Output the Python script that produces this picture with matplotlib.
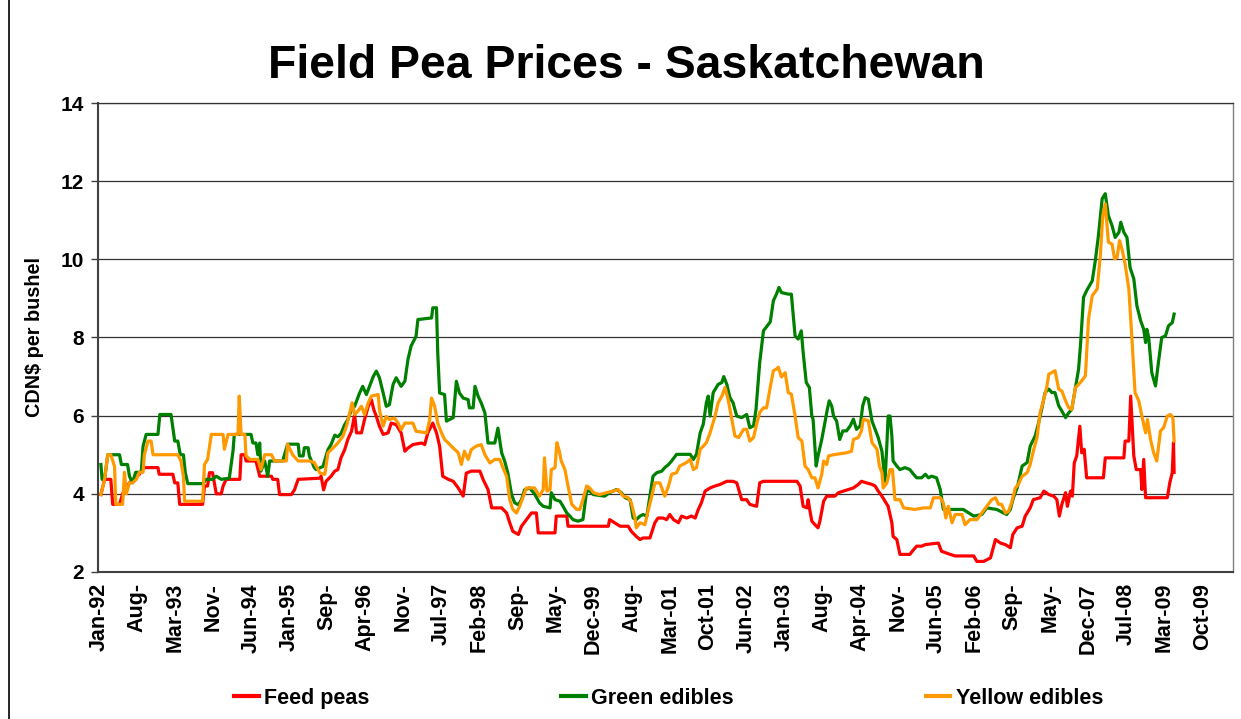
import matplotlib
matplotlib.use("Agg")
import matplotlib.pyplot as plt
from matplotlib.lines import Line2D

# ---------------- data (decimal years, CDN$ per bushel) ----------------
feed_x = [1992.03, 1992.09, 1992.19, 1992.22, 1992.33, 1992.38, 1992.49, 1992.65, 1992.73, 1992.95,
          1992.97, 1993.19, 1993.22, 1993.27, 1993.30, 1993.67, 1993.70, 1993.75, 1993.78, 1993.83,
          1993.89, 1993.97, 1994.00, 1994.05, 1994.27, 1994.29, 1994.35, 1994.37, 1994.53, 1994.59,
          1994.78, 1994.80, 1994.88, 1994.91, 1995.10, 1995.15, 1995.21, 1995.56, 1995.58, 1995.62,
          1995.66, 1995.74, 1995.80, 1995.85, 1995.90, 1995.96, 1996.01, 1996.07, 1996.12, 1996.15,
          1996.23, 1996.28, 1996.34, 1996.39, 1996.43, 1996.47, 1996.52, 1996.58, 1996.66, 1996.71,
          1996.79, 1996.87, 1996.93, 1996.98, 1997.06, 1997.20, 1997.25, 1997.30, 1997.38, 1997.44,
          1997.49, 1997.54, 1997.63, 1997.71, 1997.79, 1997.87, 1997.92, 1998.00, 1998.14, 1998.19,
          1998.27, 1998.33, 1998.49, 1998.57, 1998.62, 1998.67, 1998.76, 1998.81, 1998.89, 1998.97,
          1999.05, 1999.08, 1999.35, 1999.37, 1999.54, 1999.56, 2000.21, 2000.23, 2000.31, 2000.40,
          2000.53, 2000.58, 2000.66, 2000.72, 2000.77, 2000.88, 2000.96, 2001.01, 2001.09, 2001.15,
          2001.20, 2001.26, 2001.34, 2001.39, 2001.47, 2001.55, 2001.61, 2001.66, 2001.71, 2001.77,
          2001.85, 2001.93, 2002.01, 2002.12, 2002.22, 2002.28, 2002.36, 2002.44, 2002.49, 2002.60,
          2002.65, 2002.71, 2003.25, 2003.30, 2003.35, 2003.41, 2003.43, 2003.46, 2003.49, 2003.54,
          2003.59, 2003.62, 2003.68, 2003.73, 2003.86, 2003.92, 2004.00, 2004.08, 2004.16, 2004.24,
          2004.29, 2004.37, 2004.46, 2004.51, 2004.56, 2004.62, 2004.67, 2004.72, 2004.78, 2004.80,
          2004.86, 2004.91, 2005.07, 2005.13, 2005.18, 2005.26, 2005.32, 2005.53, 2005.58, 2005.72,
          2005.80, 2006.10, 2006.15, 2006.26, 2006.37, 2006.45, 2006.53, 2006.61, 2006.69, 2006.73,
          2006.80, 2006.88, 2006.93, 2007.01, 2007.06, 2007.17, 2007.23, 2007.31, 2007.39, 2007.44,
          2007.48, 2007.52, 2007.58, 2007.61, 2007.66, 2007.69, 2007.72, 2007.76, 2007.81, 2007.84,
          2007.88, 2007.92, 2008.19, 2008.22, 2008.52, 2008.54, 2008.60, 2008.63, 2008.68, 2008.72,
          2008.79, 2008.81, 2008.84, 2008.87, 2009.22, 2009.26, 2009.30, 2009.32, 2009.33]
feed_y = [3.98, 4.37, 4.37, 3.73, 3.73, 4.00, 4.28, 4.50, 4.67, 4.67,
          4.50, 4.50, 4.28, 4.28, 3.73, 3.73, 4.20, 4.20, 4.54, 4.54,
          4.00, 4.00, 4.20, 4.37, 4.37, 5.00, 5.00, 4.84, 4.84, 4.45,
          4.45, 4.37, 4.37, 3.98, 3.98, 4.10, 4.37, 4.40, 4.45, 4.10,
          4.32, 4.45, 4.58, 4.62, 4.92, 5.13, 5.39, 5.60, 6.03, 5.56,
          5.56, 5.90, 6.24, 6.41, 6.15, 5.98, 5.73, 5.52, 5.56, 5.81,
          5.77, 5.56, 5.09, 5.17, 5.26, 5.30, 5.26, 5.56, 5.81, 5.56,
          5.22, 4.45, 4.37, 4.32, 4.15, 3.94, 4.53, 4.58, 4.58, 4.37,
          4.11, 3.64, 3.64, 3.51, 3.26, 3.04, 2.96, 3.17, 3.34, 3.51,
          3.51, 3.00, 3.00, 3.43, 3.43, 3.17, 3.17, 3.34, 3.26, 3.17,
          3.17, 3.04, 2.91, 2.83, 2.87, 2.87, 3.26, 3.38, 3.38, 3.34,
          3.47, 3.34, 3.26, 3.43, 3.38, 3.43, 3.38, 3.60, 3.77, 4.07,
          4.15, 4.20, 4.24, 4.32, 4.32, 4.28, 3.85, 3.85, 3.73, 3.68,
          4.28, 4.32, 4.32, 4.20, 3.68, 3.64, 3.85, 3.56, 3.30, 3.21,
          3.13, 3.30, 3.81, 3.94, 3.94, 4.03, 4.07, 4.11, 4.15, 4.24,
          4.32, 4.28, 4.24, 4.20, 4.07, 3.94, 3.81, 3.68, 3.26, 2.91,
          2.83, 2.45, 2.45, 2.57, 2.66, 2.66, 2.70, 2.74, 2.53, 2.45,
          2.41, 2.41, 2.27, 2.27, 2.36, 2.83, 2.74, 2.70, 2.62, 2.96,
          3.13, 3.17, 3.43, 3.64, 3.85, 3.90, 4.07, 3.98, 3.94, 3.85,
          3.43, 3.73, 4.03, 3.68, 4.07, 3.94, 4.79, 4.97, 5.73, 5.05,
          5.14, 4.41, 4.41, 4.92, 4.92, 5.35, 5.35, 6.50, 4.97, 4.62,
          4.62, 4.11, 4.88, 3.90, 3.90, 4.28, 4.54, 5.31, 4.55]

green_x = [1992.03, 1992.05, 1992.09, 1992.14, 1992.33, 1992.36, 1992.46, 1992.49, 1992.54, 1992.59,
           1992.68, 1992.71, 1992.76, 1992.95, 1992.98, 1993.16, 1993.22, 1993.27, 1993.31, 1993.36,
           1993.39, 1993.43, 1993.67, 1993.73, 1993.83, 1993.89, 1993.97, 1994.10, 1994.16, 1994.18,
           1994.45, 1994.48, 1994.53, 1994.56, 1994.59, 1994.61, 1994.67, 1994.72, 1994.75, 1994.96,
           1995.04, 1995.21, 1995.23, 1995.29, 1995.31, 1995.37, 1995.39, 1995.47, 1995.50, 1995.61,
           1995.69, 1995.74, 1995.80, 1995.85, 1995.90, 1995.96, 1996.01, 1996.07, 1996.12, 1996.20,
           1996.25, 1996.31, 1996.36, 1996.42, 1996.47, 1996.52, 1996.58, 1996.63, 1996.68, 1996.74,
           1996.79, 1996.87, 1996.93, 1996.98, 1997.03, 1997.11, 1997.14, 1997.36, 1997.38, 1997.44,
           1997.46, 1997.49, 1997.57, 1997.60, 1997.71, 1997.76, 1997.81, 1997.87, 1997.95, 1997.97,
           1998.03, 1998.06, 1998.11, 1998.16, 1998.22, 1998.27, 1998.38, 1998.43, 1998.49, 1998.54,
           1998.59, 1998.65, 1998.70, 1998.76, 1998.81, 1998.86, 1998.94, 1999.02, 1999.10, 1999.16,
           1999.27, 1999.29, 1999.35, 1999.43, 1999.48, 1999.54, 1999.59, 1999.64, 1999.72, 1999.80,
           1999.86, 1999.91, 1999.97, 2000.15, 2000.23, 2000.34, 2000.42, 2000.48, 2000.56, 2000.61,
           2000.66, 2000.72, 2000.77, 2000.83, 2000.88, 2000.93, 2000.99, 2001.07, 2001.12, 2001.18,
           2001.23, 2001.31, 2001.53, 2001.58, 2001.63, 2001.69, 2001.74, 2001.79, 2001.82, 2001.85,
           2001.90, 2001.98, 2002.04, 2002.07, 2002.12, 2002.17, 2002.22, 2002.28, 2002.36, 2002.44,
           2002.49, 2002.55, 2002.59, 2002.65, 2002.71, 2002.82, 2002.87, 2002.92, 2002.96, 2003.00,
           2003.11, 2003.16, 2003.22, 2003.27, 2003.32, 2003.35, 2003.40, 2003.45, 2003.49, 2003.51,
           2003.56, 2003.59, 2003.65, 2003.70, 2003.74, 2003.77, 2003.81, 2003.84, 2003.89, 2003.94,
           2003.99, 2004.05, 2004.11, 2004.16, 2004.21, 2004.27, 2004.31, 2004.35, 2004.40, 2004.46,
           2004.51, 2004.56, 2004.62, 2004.67, 2004.70, 2004.72, 2004.75, 2004.78, 2004.80, 2004.86,
           2004.91, 2004.99, 2005.07, 2005.13, 2005.18, 2005.26, 2005.32, 2005.37, 2005.42, 2005.50,
           2005.56, 2005.61, 2005.93, 2006.02, 2006.10, 2006.23, 2006.31, 2006.47, 2006.63, 2006.69,
           2006.74, 2006.80, 2006.88, 2006.96, 2007.01, 2007.09, 2007.14, 2007.20, 2007.25, 2007.31,
           2007.36, 2007.41, 2007.47, 2007.52, 2007.58, 2007.63, 2007.68, 2007.74, 2007.79, 2007.82,
           2007.87, 2007.92, 2008.01, 2008.06, 2008.11, 2008.17, 2008.22, 2008.27, 2008.33, 2008.38,
           2008.44, 2008.47, 2008.52, 2008.57, 2008.62, 2008.68, 2008.73, 2008.79, 2008.84, 2008.87,
           2008.89, 2008.92, 2008.97, 2009.03, 2009.08, 2009.13, 2009.19, 2009.24, 2009.30, 2009.33]
green_y = [4.75, 4.37, 4.37, 5.00, 5.00, 4.75, 4.75, 4.45, 4.28, 4.55,
           4.55, 5.22, 5.52, 5.52, 6.03, 6.03, 5.35, 5.35, 5.00, 5.00,
           4.55, 4.26, 4.26, 4.37, 4.37, 4.45, 4.37, 4.40, 5.10, 5.52,
           5.52, 5.30, 5.30, 5.00, 5.30, 4.58, 4.84, 4.45, 4.84, 4.84,
           5.27, 5.27, 4.97, 4.97, 5.18, 5.18, 4.97, 4.67, 4.62, 4.70,
           5.13, 5.26, 5.50, 5.46, 5.54, 5.77, 5.90, 6.15, 6.24, 6.58,
           6.75, 6.54, 6.75, 7.00, 7.14, 6.97, 6.58, 6.24, 6.28, 6.80,
           6.97, 6.75, 6.88, 7.44, 7.78, 8.03, 8.46, 8.50, 8.76, 8.76,
           7.60, 6.58, 6.54, 5.86, 5.95, 6.88, 6.58, 6.45, 6.41, 6.20,
           6.20, 6.75, 6.50, 6.33, 6.07, 5.30, 5.30, 5.68, 5.05, 4.83,
           4.53, 3.98, 3.77, 3.72, 3.85, 4.10, 4.15, 4.00, 3.77, 3.68,
           3.64, 4.03, 3.85, 3.81, 3.68, 3.51, 3.43, 3.34, 3.30, 3.34,
           4.07, 4.07, 3.98, 3.94, 4.03, 4.11, 4.03, 3.90, 3.85, 3.38,
           3.34, 3.43, 3.47, 3.43, 3.94, 4.45, 4.54, 4.58, 4.67, 4.75,
           4.84, 5.01, 5.01, 4.88, 5.01, 5.56, 5.78, 6.33, 6.50, 5.99,
           6.59, 6.80, 6.85, 7.00, 6.80, 6.46, 6.33, 5.99, 5.95, 6.03,
           5.69, 5.74, 6.16, 7.36, 8.17, 8.40, 8.94, 9.11, 9.28, 9.15,
           9.11, 9.11, 8.04, 7.96, 8.17, 7.62, 6.85, 6.72, 5.99, 5.91,
           4.71, 4.97, 5.39, 5.82, 6.16, 6.38, 6.25, 5.99, 5.86, 5.39,
           5.61, 5.61, 5.74, 5.91, 5.65, 5.74, 6.25, 6.46, 6.42, 5.86,
           5.65, 5.44, 5.09, 4.32, 5.27, 5.99, 5.99, 5.48, 4.84, 4.71,
           4.62, 4.67, 4.62, 4.50, 4.41, 4.41, 4.50, 4.41, 4.45, 4.41,
           4.11, 3.60, 3.60, 3.51, 3.43, 3.47, 3.64, 3.60, 3.47, 3.60,
           3.90, 4.15, 4.71, 4.80, 5.22, 5.48, 5.78, 6.20, 6.59, 6.68,
           6.59, 6.59, 6.25, 6.12, 5.95, 6.07, 6.16, 6.72, 7.19, 7.79,
           9.03, 9.20, 9.45, 9.97, 10.61, 11.55, 11.68, 11.12, 10.86, 10.56,
           10.69, 10.95, 10.69, 10.56, 9.79, 9.50, 8.81, 8.43, 8.21, 7.87,
           8.21, 8.00, 7.10, 6.76, 7.40, 8.00, 8.04, 8.30, 8.38, 8.60]

yellow_x = [1992.03, 1992.09, 1992.14, 1992.19, 1992.25, 1992.27, 1992.38, 1992.41, 1992.44, 1992.49,
            1992.54, 1992.60, 1992.65, 1992.71, 1992.73, 1992.79, 1992.84, 1992.87, 1993.27, 1993.32,
            1993.36, 1993.38, 1993.67, 1993.70, 1993.75, 1993.81, 1994.00, 1994.02, 1994.08, 1994.24,
            1994.26, 1994.29, 1994.35, 1994.37, 1994.43, 1994.56, 1994.61, 1994.67, 1994.78, 1994.83,
            1995.02, 1995.04, 1995.12, 1995.21, 1995.39, 1995.47, 1995.56, 1995.64, 1995.69, 1995.77,
            1995.85, 1995.93, 1995.99, 1996.04, 1996.08, 1996.12, 1996.17, 1996.23, 1996.28, 1996.34,
            1996.39, 1996.50, 1996.52, 1996.58, 1996.63, 1996.68, 1996.76, 1996.82, 1996.87, 1996.93,
            1997.06, 1997.11, 1997.28, 1997.33, 1997.36, 1997.41, 1997.46, 1997.52, 1997.57, 1997.63,
            1997.71, 1997.79, 1997.84, 1997.89, 1997.95, 1998.00, 1998.08, 1998.16, 1998.22, 1998.30,
            1998.38, 1998.46, 1998.51, 1998.57, 1998.62, 1998.67, 1998.73, 1998.78, 1998.84, 1998.89,
            1999.02, 1999.10, 1999.16, 1999.18, 1999.22, 1999.27, 1999.29, 1999.35, 1999.38, 1999.42,
            1999.45, 1999.51, 1999.56, 1999.62, 1999.70, 1999.75, 1999.80, 1999.86, 1999.91, 1999.97,
            2000.07, 2000.18, 2000.29, 2000.37, 2000.45, 2000.53, 2000.58, 2000.64, 2000.66, 2000.72,
            2000.80, 2000.85, 2000.91, 2000.96, 2001.04, 2001.09, 2001.12, 2001.18, 2001.23, 2001.31,
            2001.36, 2001.47, 2001.53, 2001.58, 2001.63, 2001.69, 2001.74, 2001.79, 2001.85, 2001.93,
            2001.98, 2002.04, 2002.09, 2002.14, 2002.20, 2002.25, 2002.31, 2002.39, 2002.44, 2002.49,
            2002.55, 2002.60, 2002.65, 2002.71, 2002.76, 2002.82, 2002.87, 2002.92, 2002.95, 2003.00,
            2003.06, 2003.11, 2003.16, 2003.22, 2003.27, 2003.33, 2003.38, 2003.43, 2003.49, 2003.54,
            2003.59, 2003.65, 2003.68, 2003.73, 2003.76, 2003.84, 2004.05, 2004.13, 2004.16, 2004.24,
            2004.29, 2004.32, 2004.40, 2004.46, 2004.54, 2004.58, 2004.62, 2004.64, 2004.70, 2004.75,
            2004.79, 2004.83, 2004.91, 2004.97, 2005.15, 2005.29, 2005.40, 2005.45, 2005.56, 2005.61,
            2005.65, 2005.69, 2005.75, 2005.80, 2005.91, 2005.96, 2006.04, 2006.15, 2006.23, 2006.31,
            2006.39, 2006.45, 2006.50, 2006.55, 2006.61, 2006.66, 2006.71, 2006.77, 2006.82, 2006.88,
            2006.96, 2007.01, 2007.06, 2007.12, 2007.17, 2007.23, 2007.28, 2007.31, 2007.41, 2007.47,
            2007.52, 2007.58, 2007.63, 2007.68, 2007.74, 2007.79, 2007.84, 2007.90, 2007.95, 2008.01,
            2008.09, 2008.14, 2008.18, 2008.22, 2008.27, 2008.33, 2008.37, 2008.41, 2008.45, 2008.49,
            2008.54, 2008.60, 2008.65, 2008.70, 2008.76, 2008.81, 2008.87, 2008.90, 2008.95, 2009.00,
            2009.05, 2009.11, 2009.16, 2009.22, 2009.27, 2009.31, 2009.33]
yellow_y = [3.98, 4.37, 5.00, 5.00, 4.70, 3.73, 3.73, 4.55, 4.00, 4.28,
            4.28, 4.37, 4.55, 4.55, 5.00, 5.35, 5.35, 5.00, 5.00, 4.84,
            4.45, 3.81, 3.81, 4.75, 4.88, 5.52, 5.52, 5.14, 5.52, 5.52,
            6.50, 5.52, 5.52, 4.97, 4.88, 4.88, 4.62, 5.00, 5.00, 4.84,
            4.84, 5.27, 5.00, 4.84, 4.84, 4.80, 4.53, 4.50, 5.05, 5.17,
            5.30, 5.47, 5.73, 6.07, 6.33, 6.03, 6.11, 6.24, 6.03, 6.33,
            6.50, 6.54, 6.15, 5.73, 5.98, 5.90, 5.94, 5.81, 5.64, 5.81,
            5.81, 5.60, 5.56, 5.90, 6.45, 6.24, 5.81, 5.56, 5.39, 5.30,
            5.17, 5.05, 4.75, 5.09, 4.88, 5.13, 5.22, 5.26, 5.00, 4.79,
            4.88, 4.88, 4.67, 4.45, 3.85, 3.60, 3.51, 3.68, 3.94, 4.15,
            4.15, 3.94, 4.11, 4.92, 4.07, 4.11, 4.62, 4.67, 5.31, 5.09,
            4.84, 4.62, 4.20, 3.73, 3.60, 3.60, 3.85, 4.20, 4.15, 4.03,
            3.98, 4.03, 4.07, 4.11, 3.94, 3.90, 3.77, 3.38, 3.13, 3.26,
            3.21, 3.56, 3.94, 4.28, 4.28, 4.07, 3.94, 4.20, 4.50, 4.54,
            4.71, 4.80, 4.88, 4.62, 4.67, 5.14, 5.22, 5.31, 5.56, 5.99,
            6.33, 6.50, 6.72, 6.42, 5.90, 5.48, 5.44, 5.65, 5.65, 5.35,
            5.44, 5.78, 6.08, 6.20, 6.20, 6.73, 7.15, 7.19, 7.24, 6.99,
            7.10, 6.59, 6.55, 5.99, 5.44, 5.35, 4.71, 4.62, 4.41, 4.41,
            4.15, 4.50, 4.84, 4.75, 4.97, 5.00, 5.05, 5.09, 5.39, 5.44,
            5.61, 5.91, 5.87, 5.31, 5.14, 4.71, 4.54, 4.15, 4.28, 4.62,
            4.62, 3.85, 3.85, 3.64, 3.60, 3.64, 3.64, 3.90, 3.90, 3.77,
            3.38, 3.68, 3.26, 3.47, 3.47, 3.21, 3.34, 3.34, 3.51, 3.68,
            3.85, 3.90, 3.73, 3.73, 3.51, 3.55, 3.77, 4.15, 4.24, 4.45,
            4.54, 4.75, 5.09, 5.44, 6.08, 6.42, 6.76, 7.06, 7.15, 6.68,
            6.63, 6.38, 6.20, 6.16, 6.72, 6.80, 6.89, 7.02, 8.47, 9.07,
            9.24, 10.09, 11.12, 11.42, 10.44, 10.39, 10.01, 10.05, 10.48, 10.26,
            9.88, 9.24, 7.96, 6.59, 6.38, 5.99, 5.56, 5.90, 5.39, 5.05,
            4.84, 5.61, 5.69, 5.99, 6.03, 5.95, 5.35]

series_names = ["Feed peas", "Green edibles", "Yellow edibles"]
series_colors = ["#FF0000", "#008000", "#FF9900"]

tick_labels = ["Jan-92", "Aug-", "Mar-93", "Nov-", "Jun-94", "Jan-95", "Sep-", "Apr-96", "Nov-", "Jul-97",
               "Feb-98", "Sep-", "May-", "Dec-99", "Aug-", "Mar-01", "Oct-01", "Jun-02", "Jan-03", "Aug-",
               "Apr-04", "Nov-", "Jun-05", "Feb-06", "Sep-", "May-", "Dec-07", "Jul-08", "Mar-09", "Oct-09"]
tick_step_days = 224  # 32-week major unit of the date axis

# ---------------- figure ----------------
plt.rcParams['font.family'] = ['Liberation Sans', 'DejaVu Sans']
fig = plt.figure(figsize=(12.41, 7.19), dpi=100)
ax = fig.add_axes([0.0790, 0.2045, 0.9146, 0.6522])

for xs, ys, name, col in zip([feed_x, green_x, yellow_x], [feed_y, green_y, yellow_y],
                             series_names, series_colors):
    ax.plot(xs, ys, color=col, lw=2.3, label=name, solid_joinstyle='round')

ax.set_ylim(2, 14)
ax.set_yticks(range(2, 15, 2))
ax.set_xlim(1991.984, 2010.28)
ticks = [1992 + k * tick_step_days / 365.25 for k in range(len(tick_labels))]
ax.set_xticks(ticks)
ax.set_xticklabels(tick_labels, rotation=90, fontsize=15.5, fontweight='bold')
ax.tick_params(axis='x', length=0, pad=8)
ax.tick_params(axis='y', length=5, width=1, direction='out', colors='#404040',
               labelcolor='black', labelsize=15, pad=5)
for lab in ax.get_yticklabels():
    lab.set_fontweight('bold')

ax.grid(axis='y', color='#333333', lw=0.9)
ax.set_axisbelow(True)
for side in ['left', 'bottom']:
    ax.spines[side].set_color('#404040')
    ax.spines[side].set_linewidth(1.5)
ax.spines['top'].set_color('#333333')
ax.spines['top'].set_linewidth(0.9)
ax.spines['right'].set_color('#808080')
ax.spines['right'].set_linewidth(1.0)

ax.set_ylabel("CDN$ per bushel", fontsize=14.3, fontweight='bold', labelpad=12)

fig.text(0.5045, 0.908, "Field Pea Prices - Saskatchewan", ha='center', va='center',
         fontsize=33.4, fontweight='bold')

handles = [Line2D([], [], color=c, lw=3) for c in series_colors]
fig.legend(handles, series_names, loc='center left', bbox_to_anchor=(0.173, 0.029),
           ncol=3, frameon=False, handlelength=1.15, handletextpad=0.25,
           columnspacing=8.9, prop={'weight': 'bold', 'size': 15.5})

fig.add_artist(Line2D([8.5 / 1241, 8.5 / 1241], [0, 1], transform=fig.transFigure,
                      color='black', lw=1.2))

fig.savefig("out.png", dpi=100, facecolor='white')
